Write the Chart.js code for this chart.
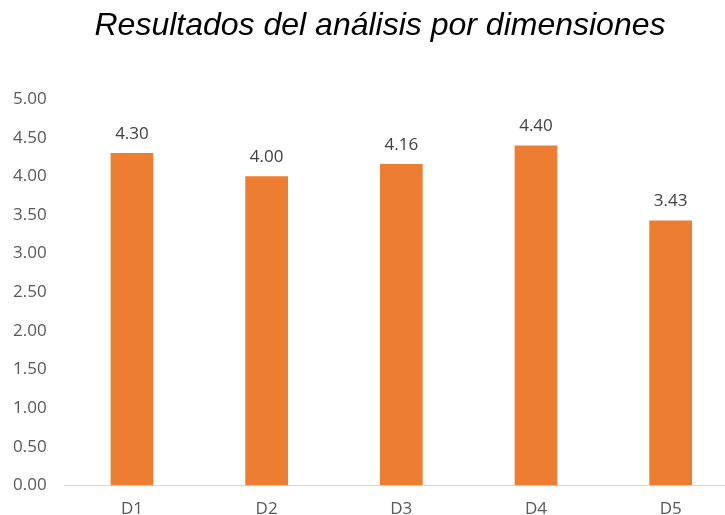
<!DOCTYPE html>
<html>
<head>
<meta charset="utf-8">
<script src="https://cdn.jsdelivr.net/npm/chart.js@4/dist/chart.umd.min.js"></script>
<style>
  html, body { margin: 0; padding: 0; background: #fff; overflow: hidden; }
  #wrap { position: relative; width: 725px; height: 515px; overflow: hidden; }
  #box { position: absolute; left: 0; top: 0; width: 760px; height: 515px; }
</style>
</head>
<body>
<div id="wrap"><div id="box"><canvas id="c" width="760" height="515"></canvas></div></div>
<script>
const chartTitle = 'Resultados del análisis por dimensiones';
const categories = ['D1', 'D2', 'D3', 'D4', 'D5'];
const scores = [4.30, 4.00, 4.16, 4.40, 3.43];
const yTicks = [0, 0.5, 1, 1.5, 2, 2.5, 3, 3.5, 4, 4.5, 5];

const BAR_COLOR = '#ED7D31';
const LABEL_FONT = '"Open Sans", "Noto Sans", sans-serif';

// Title centered on the canvas, drawn in italic
const titlePlugin = {
  id: 'italicTitle',
  afterDraw(chart) {
    const ctx = chart.ctx;
    ctx.save();
    ctx.font = 'italic 32px "Liberation Sans", Arial, sans-serif';
    ctx.fillStyle = '#000000';
    ctx.textAlign = 'center';
    ctx.textBaseline = 'middle';
    ctx.fillText(chartTitle, chart.width / 2, 26);
    ctx.restore();
  }
};

// Value labels above each bar
const valueLabels = {
  id: 'valueLabels',
  afterDatasetsDraw(chart) {
    const ctx = chart.ctx;
    const meta = chart.getDatasetMeta(0);
    ctx.save();
    ctx.font = '17px ' + LABEL_FONT;
    ctx.fillStyle = '#404040';
    ctx.textAlign = 'center';
    ctx.textBaseline = 'middle';
    meta.data.forEach((bar, i) => {
      ctx.fillText(scores[i].toFixed(2), bar.x, bar.y - 19);
    });
    ctx.restore();
  }
};

new Chart(document.getElementById('c'), {
  type: 'bar',
  data: {
    labels: categories,
    datasets: [{
      data: scores,
      backgroundColor: BAR_COLOR,
      borderWidth: 0,
      categoryPercentage: 1,
      barPercentage: 0.317
    }]
  },
  options: {
    responsive: false,
    animation: false,
    layout: { padding: { top: 99, right: 22, bottom: -17, left: -5 } },
    plugins: {
      legend: { display: false },
      tooltip: { enabled: false },
      title: { display: false }
    },
    scales: {
      x: {
        grid: { display: false, drawTicks: false },
        border: { display: true, color: '#D9D9D9', width: 1 },
        ticks: {
          color: '#595959',
          font: { family: LABEL_FONT, size: 17 },
          padding: 13
        }
      },
      y: {
        min: 0,
        max: 5,
        afterBuildTicks(axis) {
          axis.ticks = yTicks.map(v => ({ value: v }));
        },
        grid: { display: false, drawTicks: false },
        border: { display: false },
        ticks: {
          color: '#595959',
          font: { family: LABEL_FONT, size: 17 },
          padding: 18,
          callback: v => Number(v).toFixed(2)
        }
      }
    }
  },
  plugins: [titlePlugin, valueLabels]
});
</script>
</body>
</html>
